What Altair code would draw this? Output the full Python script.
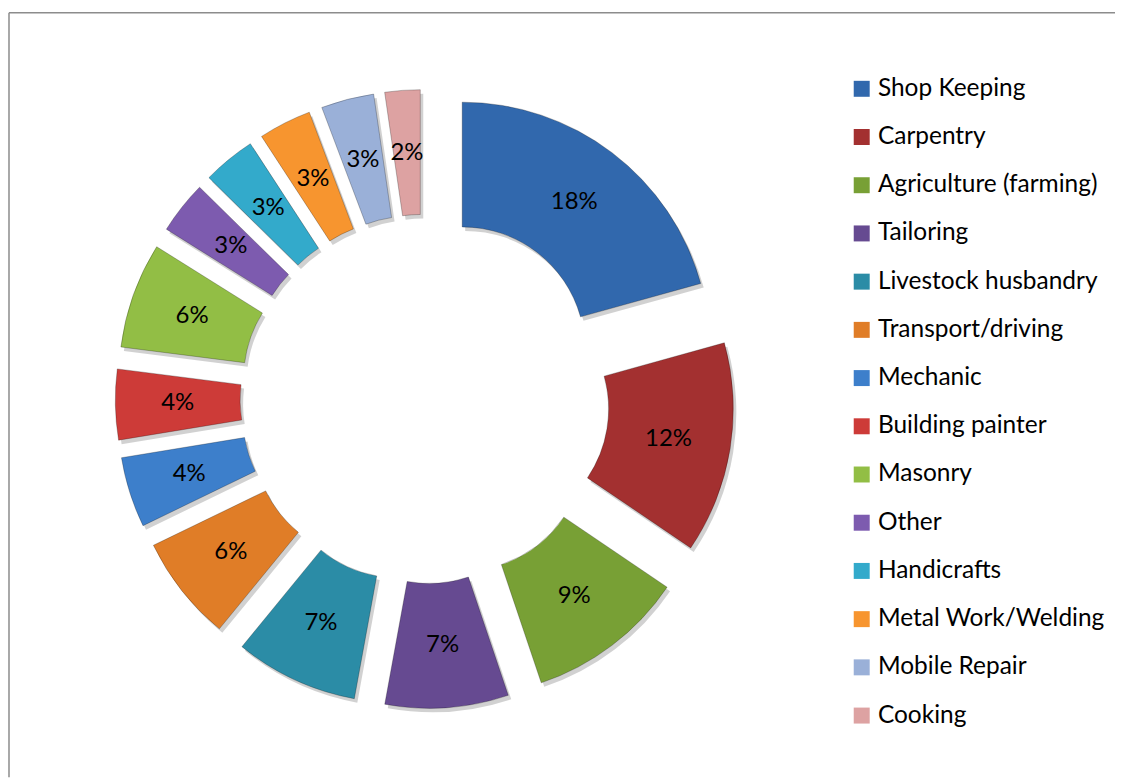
import altair as alt
import pandas as pd

categories = ["Shop Keeping", "Carpentry", "Agriculture (farming)", "Tailoring",
              "Livestock husbandry", "Transport/driving", "Mechanic", "Building painter",
              "Masonry", "Other", "Handicrafts", "Metal Work/Welding", "Mobile Repair", "Cooking"]
values = [18, 12, 9, 7, 7, 6, 4, 4, 6, 3, 3, 3, 3, 2]
colors = ["#3168AD", "#A33030", "#78A035", "#664A91", "#2B8CA6", "#E07D27", "#3D7FCB",
          "#CD3B38", "#92BE45", "#7D5BAF", "#33AACB", "#F7952F", "#9AB0D8", "#DDA2A2"]

df = pd.DataFrame({"category": categories, "value": values, "order": list(range(len(values)))})

# layout constants (pixels in plot coordinates)
CX, CY = 416.5, 391.0
EXPLODE = 62
R_IN, R_OUT = 123, 248
R_LABEL = EXPLODE + (R_IN + R_OUT) / 2
FONT = "Lato"

base = (
    alt.Chart(df)
    .transform_joinaggregate(total="sum(value)")
    .transform_window(cum="sum(value)", sort=[alt.SortField("order")], frame=[None, 0])
    .transform_calculate(t0="(datum.cum - datum.value) / datum.total * 2 * PI")
    .transform_calculate(t1="datum.cum / datum.total * 2 * PI")
    .transform_calculate(mid="(datum.t0 + datum.t1) / 2")
    .transform_calculate(cx=f"{CX} + {EXPLODE} * sin(datum.mid)")
    .transform_calculate(cy=f"{CY} - {EXPLODE} * cos(datum.mid)")
    .transform_calculate(lx=f"{CX} + {R_LABEL} * sin(datum.mid)")
    .transform_calculate(ly=f"{CY} - {R_LABEL} * cos(datum.mid)")
    .transform_calculate(label="datum.value + '%'")
)

pos = dict(
    theta=alt.Theta("t0:Q", scale=None),
    theta2=alt.Theta2("t1:Q"),
    x=alt.X("cx:Q", scale=None),
    y=alt.Y("cy:Q", scale=None),
)

shadow = base.mark_arc(innerRadius=R_IN, outerRadius=R_OUT, color="#000000",
                       opacity=0.18, xOffset=3, yOffset=4).encode(**pos)

arcs = base.mark_arc(innerRadius=R_IN, outerRadius=R_OUT, stroke="#000000",
                     strokeOpacity=0.25, strokeWidth=1).encode(
    color=alt.Color("category:N", sort=categories,
                    scale=alt.Scale(domain=categories, range=colors),
                    legend=alt.Legend(title=None, orient="none", legendX=842, legendY=68)),
    **pos,
)

labels = base.mark_text(font=FONT, fontSize=24, color="#000000",
                        align="center", baseline="middle").encode(
    x=alt.X("lx:Q", scale=None),
    y=alt.Y("ly:Q", scale=None),
    text="label:N",
)

one = pd.DataFrame({"a": [0]})
left_rule = alt.Chart(one).mark_rule(color="#8c8c8c", strokeWidth=1.5).encode(
    x=alt.value(0), y=alt.value(4), y2=alt.value(770))
top_rule = alt.Chart(one).mark_rule(color="#8c8c8c", strokeWidth=1.5).encode(
    x=alt.value(0), x2=alt.value(1108), y=alt.value(4))

chart = (
    alt.layer(left_rule, top_rule, shadow, arcs, labels)
    .properties(width=1108, height=762, padding=0)
    .configure_view(stroke=None)
    .configure_legend(
        symbolType="square", symbolSize=256, symbolStrokeWidth=0, symbolOpacity=1,
        labelFont=FONT, labelFontSize=24.5, labelColor="#000000", labelLimit=400,
        rowPadding=23.3, labelOffset=4, padding=0,
    )
)

chart.save("out.html", embed_options={"renderer": "svg", "actions": False})
